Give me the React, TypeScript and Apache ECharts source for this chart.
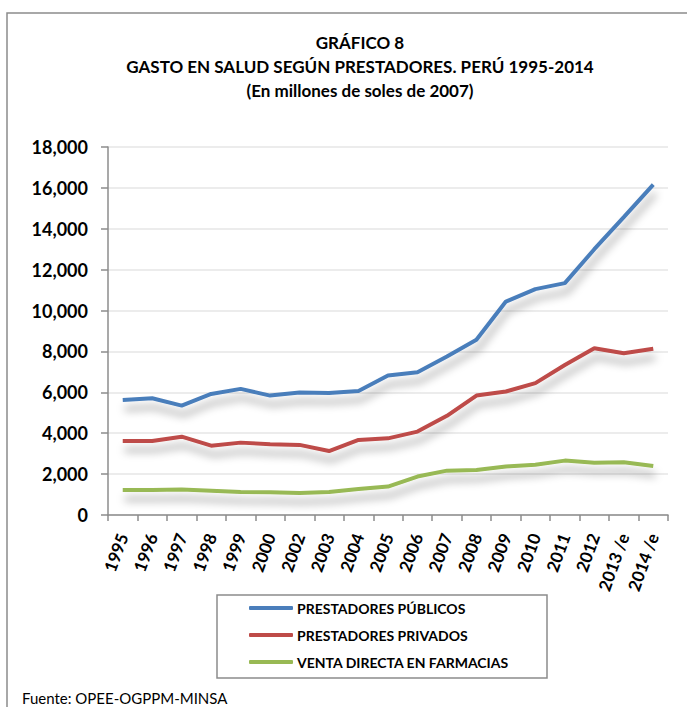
import React, { useEffect, useRef } from "react";
import * as echarts from "echarts";

const categories = ["1995","1996","1997","1998","1999","2000","2002","2003","2004","2005","2006","2007","2008","2009","2010","2011","2012","2013 /e","2014 /e"];
const publicos = [5630,5710,5350,5920,6170,5840,5990,5970,6070,6820,6985,7750,8570,10440,11050,11340,13000,14570,16160];
const privados = [3620,3620,3830,3390,3540,3460,3430,3130,3670,3750,4080,4850,5840,6040,6450,7340,8160,7910,8130];
const farmacias = [1220,1220,1250,1190,1130,1110,1080,1130,1270,1390,1880,2170,2200,2370,2460,2660,2550,2580,2400];
const seriesNames = ["PRESTADORES PÚBLICOS","PRESTADORES PRIVADOS","VENTA DIRECTA EN FARMACIAS"];
const titleLines = ["GRÁFICO 8","GASTO EN SALUD SEGÚN PRESTADORES. PERÚ 1995-2014","(En millones de soles de 2007)"];
const source = "Fuente: OPEE-OGPPM-MINSA";

const FONT = "Lato";
const colors = ["#4a7ebb", "#be4b48", "#98b954"];

export default function App() {
  const ref = useRef<HTMLDivElement>(null);
  useEffect(() => {
    if (!ref.current) return;
    const chart = echarts.init(ref.current, null, { renderer: "svg" });
    const mk = (name: string, data: number[], color: string) => ({
      name,
      type: "line",
      data,
      symbol: "none",
      smooth: false,
      lineStyle: {
        color,
        width: 4,
        shadowColor: "rgba(0,0,0,0.35)",
        shadowBlur: 8,
        shadowOffsetX: 2,
        shadowOffsetY: 9,
      },
      itemStyle: { color },
    });
    chart.setOption({
      animation: false,
      backgroundColor: "#fff",
      textStyle: { fontFamily: FONT },
      graphic: [
        {
          type: "rect",
          shape: { x: 7, y: 13, width: 800, height: 800 },
          style: { fill: "none", stroke: "#8c8c8c", lineWidth: 1.5 },
          silent: true,
          z: -10,
        },
        ...titleLines.map((t, i) => ({
          type: "text",
          x: 360,
          y: 42 + i * 24,
          style: {
            text: t,
            fill: "#000",
            font: `bold 17px ${FONT}`,
            textAlign: "center",
            textVerticalAlign: "middle",
          },
        })),
        {
          type: "rect",
          shape: { x: 217, y: 595, width: 330, height: 83 },
          style: { fill: "none", stroke: "#8c8c8c", lineWidth: 1.5 },
          silent: true,
        },
        {
          type: "text",
          x: 22,
          y: 698,
          style: {
            text: source,
            fill: "#000",
            font: `15px ${FONT}`,
            textAlign: "left",
            textVerticalAlign: "middle",
          },
        },
      ],
      legend: {
        orient: "vertical",
        left: 249,
        top: 601,
        padding: 0,
        itemWidth: 44,
        itemHeight: 4,
        itemGap: 13,
        icon: "roundRect",
        textStyle: { fontFamily: FONT, fontWeight: "bold", fontSize: 14, color: "#000", padding: [0, 0, 0, -1] },
        data: seriesNames,
      },
      grid: { left: 108, right: 19, top: 147, bottom: 192, containLabel: false },
      xAxis: {
        type: "category",
        data: categories,
        boundaryGap: true,
        axisLine: { lineStyle: { color: "#8c8c8c", width: 1.5 } },
        axisTick: { show: true, length: 6, lineStyle: { color: "#8c8c8c", width: 1.5 }, alignWithLabel: false },
        axisLabel: {
          interval: 0,
          rotate: 70,
          margin: 19,
          fontFamily: FONT,
          fontWeight: "bold",
          fontSize: 17,
          color: "#000",
        },
        splitLine: { show: false },
      },
      yAxis: {
        type: "value",
        min: 0,
        max: 18000,
        interval: 2000,
        axisLine: { show: true, lineStyle: { color: "#8c8c8c", width: 1.5 } },
        axisTick: { show: true, length: 7, lineStyle: { color: "#8c8c8c", width: 1.5 } },
        axisLabel: {
          margin: 20,
          fontFamily: FONT,
          fontWeight: "bold",
          fontSize: 18,
          color: "#000",
          formatter: (v: number) => v.toLocaleString("en-US"),
        },
        splitLine: { show: true, lineStyle: { color: "#e6e6e6", width: 1.5 } },
      },
      series: [
        mk(seriesNames[0], publicos, colors[0]),
        mk(seriesNames[1], privados, colors[1]),
        mk(seriesNames[2], farmacias, colors[2]),
      ],
    });
    return () => chart.dispose();
  }, []);
  return <div ref={ref} style={{ width: 687, height: 707, position: "absolute", left: 0, top: 0 }} />;
}
